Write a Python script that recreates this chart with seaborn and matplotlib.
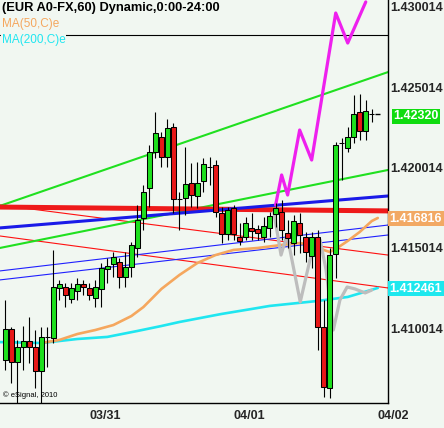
import numpy as np
import pandas as pd
import matplotlib
matplotlib.use("Agg")
import matplotlib.pyplot as plt
import matplotlib.transforms as mtransforms
import seaborn as sns

# ---------------- data ----------------
# hourly candles, x = hours since 2010-03-30 00:00
candle_hours = list(range(10, 72))
opens = [1.40802, 1.40995, 1.40790, 1.40883, 1.40921, 1.40883, 1.40734, 1.40946, 1.40939, 1.41251,
         1.41257, 1.41182, 1.41232, 1.41276, 1.41251, 1.41189, 1.41245, 1.41369, 1.41400, 1.41413,
         1.41319, 1.41382, 1.41500, 1.41687, 1.41874, 1.42098, 1.42192, 1.42067, 1.42254, 1.41805,
         1.41812, 1.41905, 1.41824, 1.41917, 1.42005, 1.42017, 1.41718, 1.41587, 1.41749, 1.41569,
         1.41569, 1.41625, 1.41618, 1.41569, 1.41625, 1.41712, 1.41724, 1.41593, 1.41531, 1.41656,
         1.41569, 1.41450, 1.41569, 1.41008, 1.40628, 1.41463, 1.42154, 1.42123, 1.42192, 1.42347,
         1.42229, 1.42335]
highs = [1.41176, 1.41008, 1.40927, 1.41014, 1.41070, 1.40989, 1.41008, 1.41008, 1.41488, 1.41301,
         1.41282, 1.41282, 1.41313, 1.41301, 1.41282, 1.41301, 1.41407, 1.41438, 1.41475, 1.41438,
         1.41475, 1.41537, 1.41768, 1.41892, 1.42142, 1.42347, 1.42223, 1.42304, 1.42279, 1.41849,
         1.42129, 1.42030, 1.42036, 1.42061, 1.42067, 1.42048, 1.41755, 1.41755, 1.41768, 1.41656,
         1.41693, 1.41718, 1.41643, 1.41693, 1.41724, 1.41780, 1.41799, 1.41674, 1.41706, 1.41718,
         1.41600, 1.41600, 1.41612, 1.41176, 1.41500, 1.42160, 1.42185, 1.42254, 1.42453, 1.42459,
         1.42422, 1.42366]
lows = [1.40740, 1.40659, 1.40534, 1.40740, 1.40784, 1.40628, 1.40534, 1.40759, 1.40908, 1.41176,
        1.41132, 1.41157, 1.41176, 1.41207, 1.41176, 1.41132, 1.41132, 1.41282, 1.41319, 1.41251,
        1.41257, 1.41319, 1.41444, 1.41612, 1.41755, 1.42061, 1.42005, 1.42005, 1.41718, 1.41612,
        1.41706, 1.41755, 1.41749, 1.41849, 1.41892, 1.41693, 1.41531, 1.41550, 1.41550, 1.41519,
        1.41550, 1.41550, 1.41550, 1.41537, 1.41569, 1.41631, 1.41550, 1.41500, 1.41456, 1.41469,
        1.41413, 1.41375, 1.40865, 1.40572, 1.40566, 1.41313, 1.41924, 1.42098, 1.42154, 1.42173,
        1.42173, 1.42285]
closes = [1.40995, 1.40790, 1.40883, 1.40921, 1.40883, 1.40734, 1.40946, 1.40946, 1.41257, 1.41276,
          1.41207, 1.41251, 1.41276, 1.41257, 1.41207, 1.41257, 1.41375, 1.41388, 1.41444, 1.41319,
          1.41382, 1.41519, 1.41674, 1.41849, 1.42098, 1.42216, 1.42067, 1.42248, 1.41805, 1.41805,
          1.41899, 1.41830, 1.41905, 1.42023, 1.42005, 1.41724, 1.41587, 1.41737, 1.41587, 1.41544,
          1.41656, 1.41606, 1.41593, 1.41637, 1.41699, 1.41749, 1.41612, 1.41562, 1.41668, 1.41581,
          1.41475, 1.41569, 1.41008, 1.40634, 1.41456, 1.42142, 1.42154, 1.42192, 1.42335, 1.42229,
          1.42354, 1.42335]

# moving averages (readings)
ma50_hours = [16, 19, 22, 25, 28, 31, 33, 36, 39, 42, 45, 48, 52, 56, 59, 61, 63, 64, 65, 67, 69, 71, 72]
ma50_vals = [1.40908, 1.40927, 1.40964, 1.40989, 1.41020, 1.41076, 1.41132, 1.41245, 1.41332, 1.41407,
             1.41456, 1.41488, 1.41500, 1.41519, 1.41531, 1.41519, 1.41488, 1.41475, 1.41494, 1.41544,
             1.41600, 1.41668, 1.41687]
ma200_hours = [9, 16, 22, 27, 32, 36, 39, 46, 51, 54, 62, 67, 72]
ma200_vals = [1.40914, 1.40908, 1.40933, 1.40946, 1.40983, 1.41014, 1.41039, 1.41089, 1.41120, 1.41139,
              1.41170, 1.41195, 1.41251]

# projection lines
magenta_hours = [55, 56, 57, 59, 61, 65, 67, 70]
magenta_vals = [1.41768, 1.41955, 1.41830, 1.42235, 1.42048, 1.42964, 1.42777, 1.43033]
grey_hours = [54.7, 55.9, 56.9, 59.1, 61.1, 62.4, 63.4, 64.6, 65.7, 66.9, 68.2, 69.9, 71.0]
grey_vals = [1.41724, 1.41456, 1.41581, 1.41164, 1.41488, 1.41550, 1.41363, 1.40989, 1.41176, 1.41257,
             1.41245, 1.41220, 1.41238]

# trend lines (start/end)
trend_hours = [9.1, 73.7]
upper_green = [1.41762, 1.42596]
lower_green = [1.41500, 1.41986]
blue_thick = [1.41625, 1.41824]
red_thick = [1.41755, 1.41731]
red_thin_1 = [1.41768, 1.41456]
red_thin_2 = [1.41575, 1.41251]
blue_thin_1 = [1.41357, 1.41643]
blue_thin_2 = [1.41301, 1.41581]
black_level = 1.42827

# axis
x_ticks = [24, 48, 72]
x_labels = ["03/31", "04/01", "04/02"]
y_ticks = [1.410014, 1.415014, 1.420014, 1.425014, 1.430014]
y_labels = ["1.410014", "1.415014", "1.420014", "1.425014", "1.430014"]

tags = [(1.42320, "1.42320", "#10dc10"),
        (1.416816, "1.416816", "#f2a964"),
        (1.412461, "1.412461", "#1ee8ee")]

title = "(EUR A0-FX,60) Dynamic,0:00-24:00"
legend_labels = ["MA(50,C)e", "MA(200,C)e"]

# ---------------- style ----------------
BG = "#f1f7f1"
sns.set_style("white", {"axes.facecolor": BG, "figure.facecolor": BG})
plt.rcParams['font.family'] = ['Liberation Sans', 'DejaVu Sans']

fig = plt.figure(figsize=(4.44, 4.28), dpi=100)
ax = fig.add_axes([0.0, 25 / 428, 388 / 444, 403 / 428])
ax.set_facecolor(BG)

GREEN_LINE = "#20e020"
BLUE = "#1a1ae8"
RED = "#ee1a1a"
ORANGE = "#f5a75e"
CYAN = "#20e6f0"

def seg(vals, color, lw, z):
    sns.lineplot(x=trend_hours, y=vals, ax=ax, color=color, linewidth=lw,
                 estimator=None, zorder=z, legend=False)

seg(red_thin_1, "#ff1010", 0.8, 1)
seg(red_thin_2, "#ff1010", 0.8, 1)
seg(blue_thin_1, "#2020ff", 0.8, 1)
seg(blue_thin_2, "#2020ff", 0.8, 1)
seg(upper_green, GREEN_LINE, 1.5, 2)
seg(lower_green, GREEN_LINE, 1.5, 2)
seg(red_thick, RED, 3.6, 2)
seg(blue_thick, BLUE, 2.2, 2.1)
ax.axhline(black_level, color="black", linewidth=0.8, zorder=1)

sns.lineplot(x=ma200_hours, y=ma200_vals, ax=ax, color=CYAN, linewidth=1.9,
             estimator=None, zorder=3, legend=False)
sns.lineplot(x=ma50_hours, y=ma50_vals, ax=ax, color=ORANGE, linewidth=1.9,
             estimator=None, zorder=3, legend=False)
sns.lineplot(x=grey_hours, y=grey_vals, ax=ax, color="#bdbdbd", linewidth=2.3,
             estimator=None, zorder=3, legend=False, sort=False)
sns.lineplot(x=magenta_hours, y=magenta_vals, ax=ax, color="#ee20ee", linewidth=2.3,
             estimator=None, zorder=3.5, legend=False, sort=False)

# candles
df = pd.DataFrame(dict(hour=candle_hours, open=opens, high=highs, low=lows, close=closes))
up = df["close"] >= df["open"]
ax.vlines(df["hour"], df["low"], df["high"], color="black", linewidth=0.8, zorder=5)
ax.bar(df["hour"], (df["close"] - df["open"]).abs(), bottom=np.minimum(df["open"], df["close"]),
       width=0.8, color=np.where(up, "#1ee01e", "#e81818"), edgecolor="black",
       linewidth=0.75, zorder=6)
ax.hlines(closes[-1], candle_hours[-1] + 0.5, candle_hours[-1] + 1.4, color="black",
          linewidth=1.0, zorder=6)

# axes
ax.set_xlim(9.14, 73.7)
ax.set_ylim(1.405343, 1.43045)
for s in ["top", "left"]:
    ax.spines[s].set_visible(False)
for s in ["bottom", "right"]:
    ax.spines[s].set_color("black")
    ax.spines[s].set_linewidth(1.0)

ax.set_xticks(x_ticks)
ax.set_xticklabels(x_labels, fontsize=9, fontweight="bold", ha="left")
ax.tick_params(axis="x", direction="in", length=3, width=0.8, color="black", pad=5)
ax.yaxis.tick_right()
ax.set_yticks(y_ticks)
ax.set_yticklabels(y_labels, fontsize=9, fontweight="bold")
ax.tick_params(axis="y", length=0, pad=1.5)
ax.set_xlabel("")
ax.set_ylabel("")

blend = mtransforms.blended_transform_factory(ax.transAxes, ax.transData)
for i, (val, txt, fc) in enumerate(tags):
    xpos = 1.014 if i == 0 else 1.004
    ax.text(xpos, val, txt, transform=blend, ha="left", va="center", color="white",
            fontsize=9, fontweight="bold", clip_on=False, zorder=10,
            bbox=dict(boxstyle="square,pad=0.12", fc=fc, ec="none"))

ax.text(0.004, 0.995, title, transform=ax.transAxes, ha="left", va="top",
        fontsize=9.3, fontweight="bold", color="black", zorder=10)
ax.text(0.004, 0.955, legend_labels[0], transform=ax.transAxes, ha="left", va="top",
        fontsize=8.5, color=ORANGE, zorder=10,
        bbox=dict(boxstyle="square,pad=0.05", fc=BG, ec="none"))
ax.text(0.004, 0.915, legend_labels[1], transform=ax.transAxes, ha="left", va="top",
        fontsize=8.5, color=CYAN, zorder=10,
        bbox=dict(boxstyle="square,pad=0.05", fc=BG, ec="none"))
ax.text(0.008, 0.01, "\u00a9 eSignal, 2010", transform=ax.transAxes, ha="left", va="bottom",
        fontsize=5.5, color="black", zorder=10)

fig.savefig("out.png", dpi=100, facecolor=BG)
